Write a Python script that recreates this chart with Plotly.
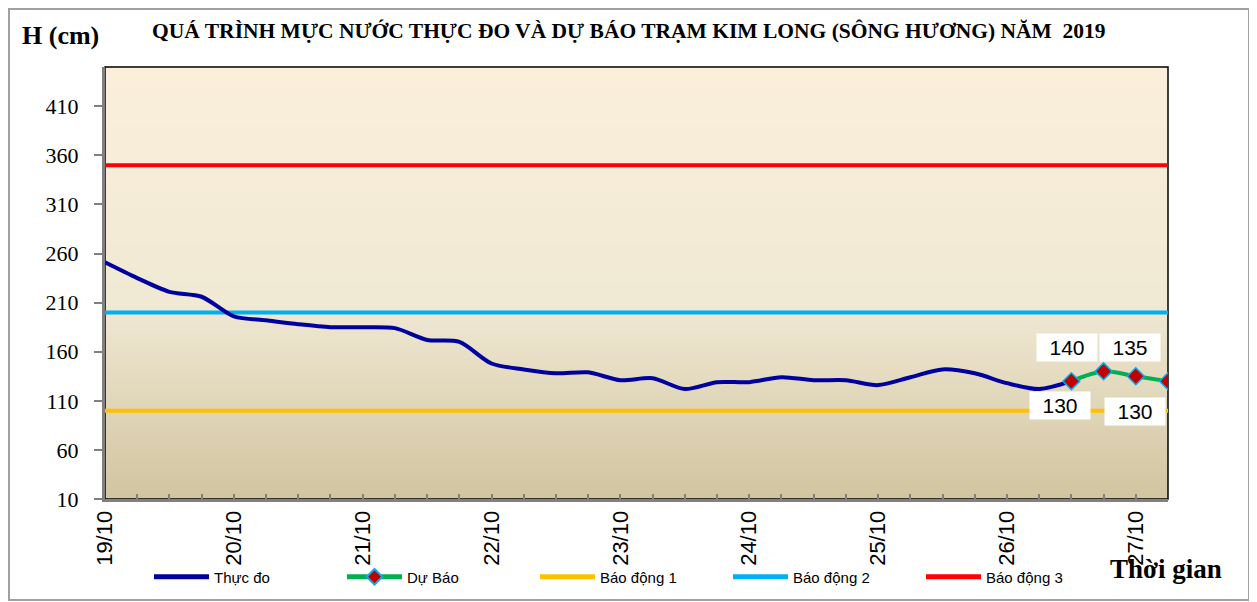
import pandas as pd
import plotly.graph_objects as go

# ---------------- data ----------------
obs_start = "2019-10-19 00:00"
obs_values = [251, 235, 221, 216, 196, 192, 188, 185, 185, 184, 172, 170, 148, 142, 138, 139,
              131, 133, 122, 129, 129, 134, 131, 131, 126, 134, 142, 138, 128, 122, 130]
fc_start = "2019-10-26 12:00"
fc_values = [130, 140, 135, 130]
alarm_names = ["Báo động 1", "Báo động 2", "Báo động 3"]
alarm_levels = [100, 200, 350]
alarm_colors = ["#FFC000", "#00B0F0", "#FF0000"]
x_range = ["2019-10-19 00:00", "2019-10-27 06:00"]
y_range = [10, 450]
title_text = "QUÁ TRÌNH MỰC NƯỚC THỰC ĐO VÀ DỰ BÁO TRẠM KIM LONG (SÔNG HƯƠNG) NĂM  2019"

obs_times = pd.date_range(obs_start, periods=len(obs_values), freq="6h")
fc_times = pd.date_range(fc_start, periods=len(fc_values), freq="6h")

# the page body has an 8px margin: work in screen pixels, convert to figure pixels
OFF = 8
W, H = 1257 - OFF, 602 - OFF
L, R, T, B = 105, 1168, 67, 499          # plot area, screen pixels
PW, PH = R - L, B - T


def px_x(p):
    return (p - L) / PW


def px_y(p):
    return (B - p) / PH


fig = go.Figure()

for name, lvl, col in zip(alarm_names, alarm_levels, alarm_colors):
    fig.add_trace(go.Scatter(
        x=x_range, y=[lvl, lvl], mode="lines", name=name,
        line=dict(color=col, width=4)))

fig.add_trace(go.Scatter(
    x=obs_times, y=obs_values, mode="lines", name="Thực đo",
    line=dict(color="#0000A0", width=4, shape="spline", smoothing=0.8)))

fig.add_trace(go.Scatter(
    x=fc_times, y=fc_values, mode="lines+markers", name="Dự Báo",
    line=dict(color="#00B050", width=4, shape="spline", smoothing=0.8),
    marker=dict(symbol="diamond", size=13, color="#C00000",
                line=dict(color="#00B0F0", width=1.5))))

# ---------------- background gradient ----------------
stops = [(0.0, (251, 239, 218)), (0.55, (240, 233, 212)), (1.0, (210, 196, 160))]


def grad(t):
    for (t0, c0), (t1, c1) in zip(stops[:-1], stops[1:]):
        if t <= t1:
            f = (t - t0) / (t1 - t0)
            return "rgb(%d,%d,%d)" % tuple(round(a + (b - a) * f) for a, b in zip(c0, c1))
    return "rgb(%d,%d,%d)" % stops[-1][1]


shapes = []
N = 80
for i in range(N):
    t = (i + 0.5) / N
    shapes.append(dict(type="rect", xref="x domain", yref="y domain",
                       x0=0, x1=1, y0=1 - (i + 1) / N - 0.001, y1=1 - i / N + 0.001,
                       fillcolor=grad(t), line=dict(width=0), layer="below"))
# plot frame (top/right black)
shapes.append(dict(type="rect", xref="x domain", yref="y domain", x0=0, x1=1, y0=0, y1=1,
                   line=dict(color="#000000", width=1.5), layer="below"))
# outer chart border
shapes.append(dict(type="rect", xref="paper", yref="paper",
                   x0=px_x(9), x1=px_x(1249), y0=px_y(600), y1=px_y(9),
                   line=dict(color="#A0A0A0", width=2), layer="below"))

# ---------------- annotations ----------------
ann = []
label_offsets = [(-11, -24), (-37, 24), (-6, 29), (-33, -30)]
for t, v, (dx, dy) in zip(fc_times, fc_values, label_offsets):
    ann.append(dict(x=t, y=v, xref="x", yref="y", text=str(v), showarrow=False,
                    xshift=dx, yshift=dy, bgcolor="#FFFFFF", width=58, height=25,
                    font=dict(family="Liberation Sans, Arial", size=21, color="#000000")))

ann.append(dict(x=px_x(61), y=px_y(36), xref="paper", yref="paper", text="<b>H (cm)</b>",
                xanchor="center", yanchor="middle",
                showarrow=False, font=dict(family="Liberation Serif, Times New Roman", size=26,
                                           color="#000000")))
ann.append(dict(x=px_x(629), y=px_y(31), xref="paper", yref="paper", text="<b>" + title_text + "</b>",
                xanchor="center", yanchor="middle",
                showarrow=False, font=dict(family="Liberation Serif, Times New Roman", size=21.5,
                                           color="#000000")))
ann.append(dict(x=px_x(1166), y=px_y(569), xref="paper", yref="paper", text="<b>Thời gian</b>",
                xanchor="center", yanchor="middle",
                showarrow=False, font=dict(family="Liberation Serif, Times New Roman", size=27,
                                           color="#000000")))

fig.update_layout(
    width=W, height=H,
    margin=dict(l=L - OFF, r=W - (R - OFF), t=T - OFF, b=H - (B - OFF), autoexpand=False),
    paper_bgcolor="#FFFFFF", plot_bgcolor="rgba(0,0,0,0)",
    showlegend=True,
    legend=dict(orientation="h", x=px_x(149), y=px_y(577), xanchor="left", yanchor="middle",
                font=dict(family="Liberation Sans, Arial", size=15, color="#000000"),
                entrywidth=123, entrywidthmode="pixels", itemwidth=55, itemsizing="constant",
                traceorder="normal", bgcolor="rgba(0,0,0,0)"),
    shapes=shapes, annotations=ann,
)

fig.update_xaxes(
    type="date", range=x_range, showgrid=False, zeroline=False, automargin=False,
    showline=True, linecolor="#808080", linewidth=3,
    tick0=x_range[0], dtick=86400000, tickformat="%d/%m", tickangle=-90,
    ticks="inside", ticklen=5, tickcolor="#808080", tickwidth=1.5,
    minor=dict(dtick=21600000, ticks="inside", ticklen=5, tickcolor="#808080", tickwidth=1.5),
    tickfont=dict(family="Liberation Sans Narrow, Arial Narrow, Liberation Sans", size=22,
                  color="#000000"),
)
fig.update_yaxes(
    range=y_range, showgrid=False, zeroline=False, automargin=False,
    showline=True, linecolor="#808080", linewidth=3,
    tick0=10, dtick=50, ticks="outside", ticklen=8, tickcolor="#808080", tickwidth=1.5,
    ticklabelstandoff=11,
    tickfont=dict(family="Liberation Serif, Times New Roman", size=22, color="#000000"),
)

# legend order as in reference
order = ["Thực đo", "Dự Báo"] + alarm_names
for tr in fig.data:
    tr.legendrank = order.index(tr.name) + 1

fig.write_html("out.html")
